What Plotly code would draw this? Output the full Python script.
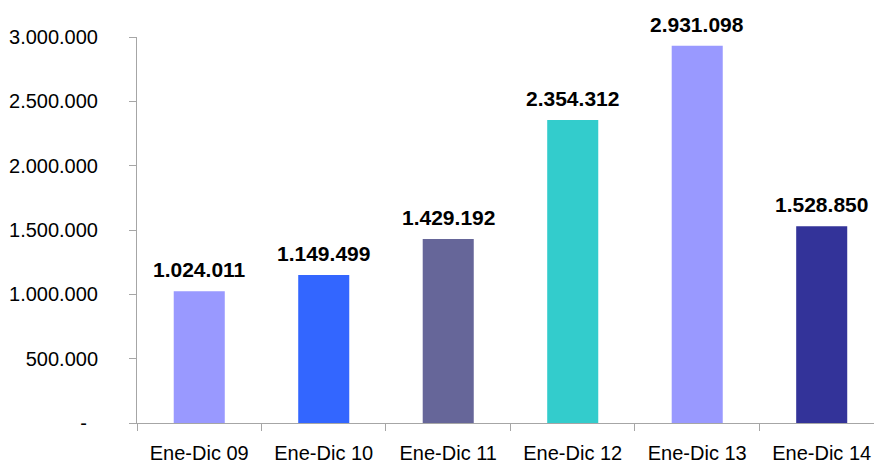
import plotly.graph_objects as go

categories = ["Ene-Dic 09", "Ene-Dic 10", "Ene-Dic 11", "Ene-Dic 12", "Ene-Dic 13", "Ene-Dic 14"]
values = [1024011, 1149499, 1429192, 2354312, 2931098, 1528850]
bar_colors = ["#9999FF", "#3366FF", "#666699", "#33CCCC", "#9999FF", "#333399"]
y_tick_vals = [0, 500000, 1000000, 1500000, 2000000, 2500000, 3000000]
y_tick_text = ["-\u00a0\u00a0", "500.000", "1.000.000", "1.500.000", "2.000.000", "2.500.000", "3.000.000"]


def fmt(v):
    return f"{v:,}".replace(",", ".")


labels = [fmt(v) for v in values]

fig = go.Figure()
fig.add_trace(go.Bar(
    x=categories,
    y=values,
    marker=dict(color=bar_colors, line=dict(width=0)),
    width=0.41,
    hoverinfo="skip",
))

for c, v, t in zip(categories, values, labels):
    fig.add_annotation(
        x=c, y=v, text=t, showarrow=False,
        yanchor="bottom", yshift=8,
        font=dict(family="Liberation Sans, Arial, sans-serif", size=21, color="#000000", weight="bold"),
    )

axis_color = "#A6A6A6"
fig.update_layout(
    width=874, height=465,
    margin=dict(l=137, r=0, t=37, b=42, autoexpand=False),
    paper_bgcolor="white", plot_bgcolor="white",
    showlegend=False,
    font=dict(family="Liberation Sans, Arial, sans-serif", color="#000000"),
    xaxis=dict(
        type="category",
        range=[-0.5, 5.42],
        automargin=False,
        showgrid=False, zeroline=False,
        showline=True, linecolor=axis_color, linewidth=1,
        ticks="outside", tickson="boundaries", ticklen=7, tickcolor=axis_color,
        tickfont=dict(size=20),
        ticklabelstandoff=12,
    ),
    yaxis=dict(
        range=[0, 3000000],
        automargin=False,
        tickvals=y_tick_vals, ticktext=y_tick_text,
        showgrid=False, zeroline=False,
        showline=True, linecolor=axis_color, linewidth=1,
        ticks="outside", ticklen=7, tickcolor=axis_color,
        tickfont=dict(size=20),
        ticklabelstandoff=27,
    ),
)

fig.write_html(
    "out.html",
    config={"displayModeBar": False, "staticPlot": True},
    post_script="document.body.style.margin='0';document.body.style.overflow='hidden';",
)
